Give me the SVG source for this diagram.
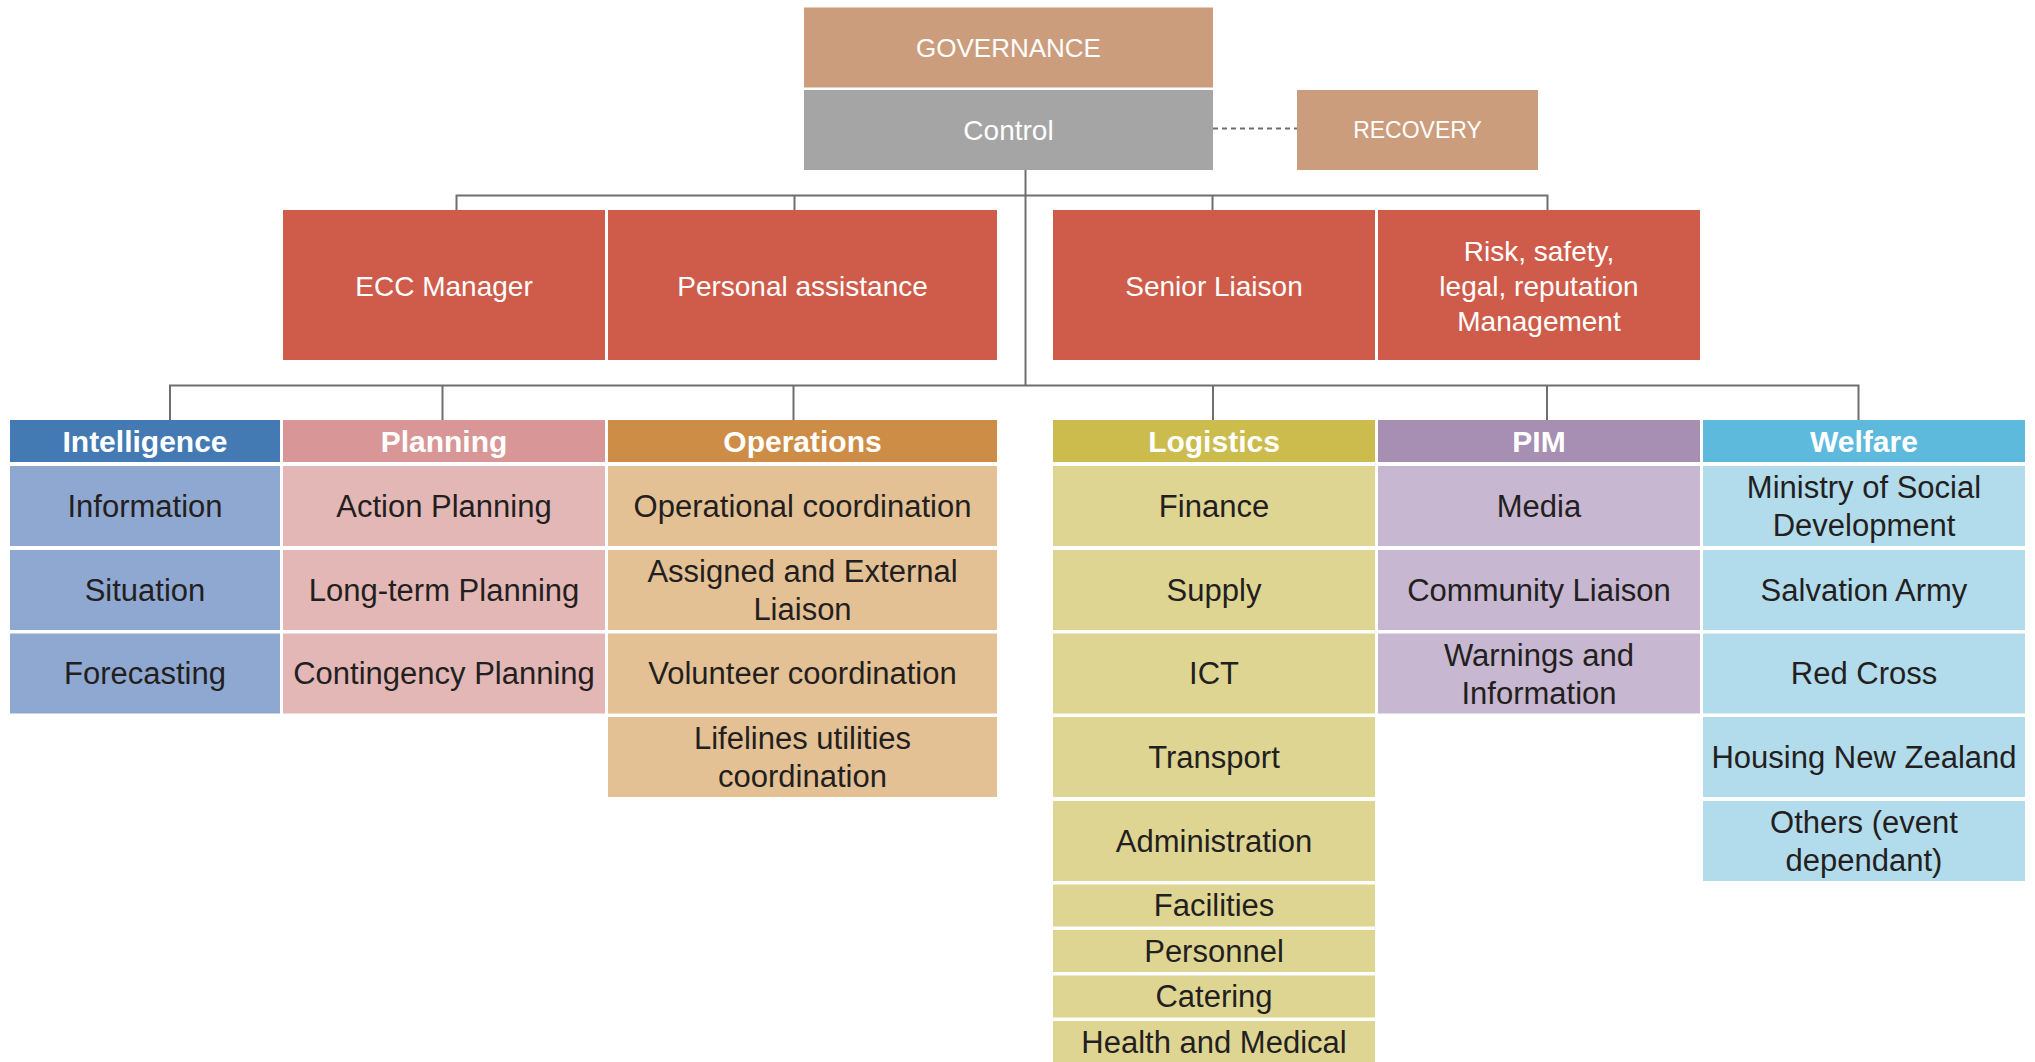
<svg xmlns="http://www.w3.org/2000/svg" width="2035" height="1062" viewBox="0 0 2035 1062">
<style>
text{font-family:"Liberation Sans",Arial,sans-serif;text-anchor:middle;dominant-baseline:central}
.w{fill:#ffffff}
.d{fill:#231f20;font-size:31px}
.hd{fill:#ffffff;font-size:30px;font-weight:bold}
.mg{fill:#ffffff;font-size:28px}
.con{stroke:#6e6e6e;stroke-width:2;fill:none}
.gov{fill:#cc9d7c}
.ctl{fill:#a5a5a5}
.red{fill:#cf5c4a}
.iH{fill:#437ab3}.iR{fill:#8fa8d1}
.pH{fill:#d89696}.pR{fill:#e3b7b6}
.oH{fill:#ce8d46}.oR{fill:#e4c194}
.lH{fill:#cbbc4d}.lR{fill:#ded593}
.mH{fill:#a68fb2}.mR{fill:#c7b7d0}
.fH{fill:#5dbadd}.fR{fill:#b2dbec}
</style>
<rect width="2035" height="1062" fill="#ffffff"/>
<g id="connectors">
<line class="con" x1="1213" y1="128.5" x2="1297" y2="128.5" stroke-dasharray="5,4"/>
<line class="con" x1="1025.5" y1="170" x2="1025.5" y2="385.5"/>
<path class="con" d="M456.5 210V195.5H1547.5V210M794.5 195.5V210M1212.5 195.5V210"/>
<path class="con" d="M170 420V385.5H1858.5V420M442.5 385.5V420M793.5 385.5V420M1213 385.5V420M1547 385.5V420"/>
</g>
<g id="governance"><rect class="gov" x="804" y="7.5" width="409" height="80"/><text class="w" x="1008.5" y="48" font-size="26">GOVERNANCE</text></g>
<g id="control"><rect class="ctl" x="804" y="90" width="409" height="80"/><text class="w" x="1008.5" y="130" font-size="28">Control</text></g>
<g id="recovery"><rect class="gov" x="1297" y="90" width="241" height="80"/><text class="w" x="1417.5" y="130" font-size="23">RECOVERY</text></g>

<g id="ecc-manager"><rect class="red" x="283" y="210" width="322" height="150"/><text class="mg" x="444" y="286">ECC Manager</text></g>
<g id="personal-assistance"><rect class="red" x="608" y="210" width="389" height="150"/><text class="mg" x="802.5" y="286">Personal assistance</text></g>
<g id="senior-liaison"><rect class="red" x="1053" y="210" width="322" height="150"/><text class="mg" x="1214" y="286">Senior Liaison</text></g>
<g id="risk"><rect class="red" x="1378" y="210" width="322" height="150"/><text class="mg" x="1539" y="251.5">Risk, safety,</text><text class="mg" x="1539" y="286.5">legal, reputation</text><text class="mg" x="1539" y="321.5">Management</text></g>

<g id="intelligence">
<rect class="iH" x="10" y="420" width="270" height="42"/><text class="hd" x="145" y="441">Intelligence</text>
<rect class="iR" x="10" y="466" width="270" height="80"/><text class="d" x="145" y="506">Information</text>
<rect class="iR" x="10" y="550" width="270" height="80"/><text class="d" x="145" y="590">Situation</text>
<rect class="iR" x="10" y="633.5" width="270" height="80"/><text class="d" x="145" y="673.5">Forecasting</text>
</g>
<g id="planning">
<rect class="pH" x="283" y="420" width="322" height="42"/><text class="hd" x="444" y="441">Planning</text>
<rect class="pR" x="283" y="466" width="322" height="80"/><text class="d" x="444" y="506">Action Planning</text>
<rect class="pR" x="283" y="550" width="322" height="80"/><text class="d" x="444" y="590">Long-term Planning</text>
<rect class="pR" x="283" y="633.5" width="322" height="80"/><text class="d" x="444" y="673.5">Contingency Planning</text>
</g>
<g id="operations">
<rect class="oH" x="608" y="420" width="389" height="42"/><text class="hd" x="802.5" y="441">Operations</text>
<rect class="oR" x="608" y="466" width="389" height="80"/><text class="d" x="802.5" y="506">Operational coordination</text>
<rect class="oR" x="608" y="550" width="389" height="80"/><text class="d" x="802.5" y="571.5">Assigned and External</text><text class="d" x="802.5" y="609.5">Liaison</text>
<rect class="oR" x="608" y="633.5" width="389" height="80"/><text class="d" x="802.5" y="673.5">Volunteer coordination</text>
<rect class="oR" x="608" y="717" width="389" height="80"/><text class="d" x="802.5" y="738">Lifelines utilities</text><text class="d" x="802.5" y="776">coordination</text>
</g>
<g id="logistics">
<rect class="lH" x="1053" y="420" width="322" height="42"/><text class="hd" x="1214" y="441">Logistics</text>
<rect class="lR" x="1053" y="466" width="322" height="80"/><text class="d" x="1214" y="506">Finance</text>
<rect class="lR" x="1053" y="550" width="322" height="80"/><text class="d" x="1214" y="590">Supply</text>
<rect class="lR" x="1053" y="633.5" width="322" height="80"/><text class="d" x="1214" y="673.5">ICT</text>
<rect class="lR" x="1053" y="717" width="322" height="80"/><text class="d" x="1214" y="757">Transport</text>
<rect class="lR" x="1053" y="801" width="322" height="80"/><text class="d" x="1214" y="841">Administration</text>
<rect class="lR" x="1053" y="884.5" width="322" height="42"/><text class="d" x="1214" y="905.5">Facilities</text>
<rect class="lR" x="1053" y="930" width="322" height="42"/><text class="d" x="1214" y="951">Personnel</text>
<rect class="lR" x="1053" y="975.5" width="322" height="42"/><text class="d" x="1214" y="996.5">Catering</text>
<rect class="lR" x="1053" y="1021" width="322" height="45"/><text class="d" x="1214" y="1042">Health and Medical</text>
</g>
<g id="pim">
<rect class="mH" x="1378" y="420" width="322" height="42"/><text class="hd" x="1539" y="441">PIM</text>
<rect class="mR" x="1378" y="466" width="322" height="80"/><text class="d" x="1539" y="506">Media</text>
<rect class="mR" x="1378" y="550" width="322" height="80"/><text class="d" x="1539" y="590">Community Liaison</text>
<rect class="mR" x="1378" y="633.5" width="322" height="80"/><text class="d" x="1539" y="655">Warnings and</text><text class="d" x="1539" y="693">Information</text>
</g>
<g id="welfare">
<rect class="fH" x="1703" y="420" width="322" height="42"/><text class="hd" x="1864" y="441">Welfare</text>
<rect class="fR" x="1703" y="466" width="322" height="80"/><text class="d" x="1864" y="487.5">Ministry of Social</text><text class="d" x="1864" y="525.5">Development</text>
<rect class="fR" x="1703" y="550" width="322" height="80"/><text class="d" x="1864" y="590">Salvation Army</text>
<rect class="fR" x="1703" y="633.5" width="322" height="80"/><text class="d" x="1864" y="673.5">Red Cross</text>
<rect class="fR" x="1703" y="717" width="322" height="80"/><text class="d" x="1864" y="757">Housing New Zealand</text>
<rect class="fR" x="1703" y="801" width="322" height="80"/><text class="d" x="1864" y="822">Others (event</text><text class="d" x="1864" y="860">dependant)</text>
</g>
</svg>
